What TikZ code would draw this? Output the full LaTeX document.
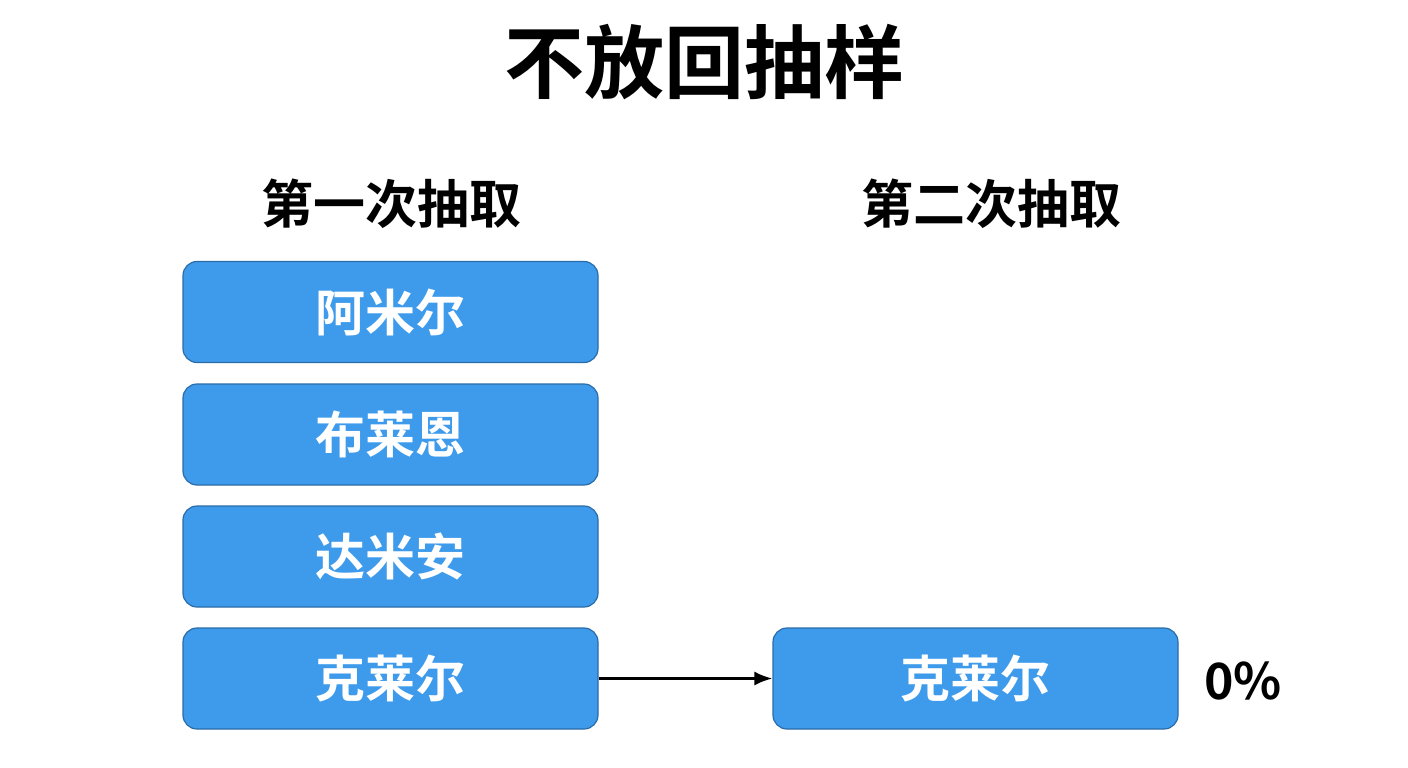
\documentclass[tikz,border=0pt]{standalone}
\usepackage{fontspec}
\setmainfont{Noto Sans CJK SC}[BoldFont={* Bold}]
\usetikzlibrary{arrows.meta}
\definecolor{boxfill}{HTML}{3E9BEC}
\definecolor{boxdraw}{HTML}{2A6CA8}
\begin{document}
\begin{tikzpicture}[x=1pt,y=-1pt,
  box/.style={draw=boxdraw,line width=1.2pt,fill=boxfill,rounded corners=14pt,text=white,font=\fontsize{50}{50}\selectfont\bfseries},
  head/.style={font=\fontsize{52}{52}\selectfont\bfseries}]
\useasboundingbox (0,0) rectangle (1408,768);
\node[font=\fontsize{80}{80}\selectfont\bfseries] (title) at (704,62) {不放回抽样};
\node[head] (h1) at (391,204) {第一次抽取};
\node[head] (h2) at (991,204) {第二次抽取};
\node[box,minimum width=415pt,minimum height=101pt] (a) at (390.5,312) {阿米尔};
\node[box,minimum width=415pt,minimum height=101pt] (b) at (390.5,434.5) {布莱恩};
\node[box,minimum width=415pt,minimum height=101pt] (c) at (390.5,556.5) {达米安};
\node[box,minimum width=415pt,minimum height=101pt] (d) at (390.5,678.5) {克莱尔};
\node[box,minimum width=405pt,minimum height=101pt] (e) at (975.5,678.5) {克莱尔};
\node[font=\fontsize{50}{50}\selectfont\bfseries] (p) at (1243,681) {0\%};
\draw[line width=2.5pt,-{Latex[length=18pt,width=14pt]}] (d.east) -- (e.west);
\end{tikzpicture}
\end{document}
